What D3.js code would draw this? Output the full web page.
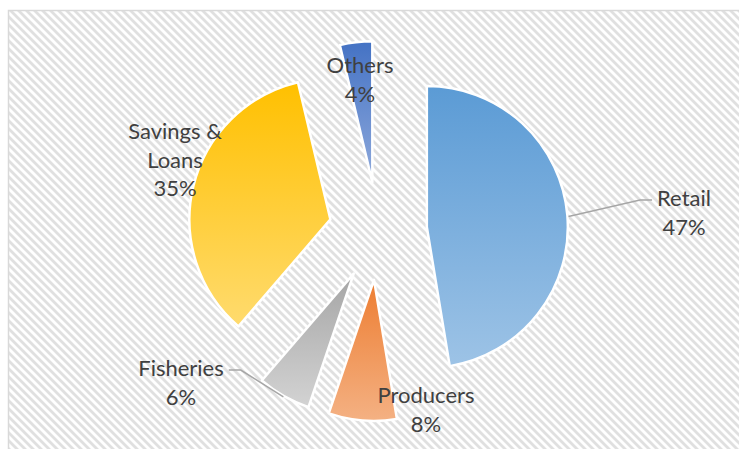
<!DOCTYPE html>
<html><head><meta charset="utf-8">
<script src="https://cdn.jsdelivr.net/npm/d3@7"></script>
<style>html,body{margin:0;padding:0;background:#fff;}svg{display:block;}</style>
</head><body>
<svg id="chart" width="739" height="449"></svg>
<script>
// ---- data ----
const categories = ["Retail", "Producers", "Fisheries", "Savings & Loans", "Others"];
const shares = [47.4, 7.8, 6.1, 35.0, 3.7];
const labelLines = [["Retail"], ["Producers"], ["Fisheries"], ["Savings &", "Loans"], ["Others"]];

// ---- styles / layout ----
const gradStops = [
  ["#5B9BD5", "#9DC3E6"],
  ["#ED7D31", "#F4B183"],
  ["#A5A5A5", "#D3D3D3"],
  ["#FFC000", "#FFDB6E"],
  ["#4472C4", "#8FAADC"]
];
const W = 739, H = 449;
const cx = 378, cy = 231, R = 141, explode = 49;
// label anchor offsets (relative to pie centre) of the first text baseline
const labelOffsets = [[306, -25], [48, 172], [-197, 145], [-203, -92], [-18, -158]];
const lineH = 28.5;
const leaderSlices = { 0: 85.8, 2: null }; // retail at given angle, fisheries at mid angle

const svg = d3.select("#chart");
const defs = svg.append("defs");
const pat = defs.append("pattern").attr("id", "hatch").attr("patternUnits", "userSpaceOnUse")
  .attr("width", 8).attr("height", 8);
pat.append("rect").attr("width", 8).attr("height", 8).attr("fill", "#fff");
pat.append("path").attr("d", "M-1,-1L9,9M-1,7L1,9M7,-1L9,1")
  .attr("stroke", "#e0e0e0").attr("stroke-width", 2.8);

gradStops.forEach((g, i) => {
  const lg = defs.append("linearGradient").attr("id", "g" + i)
    .attr("x1", 0).attr("y1", 0).attr("x2", 0).attr("y2", 1);
  lg.append("stop").attr("offset", "0%").attr("stop-color", g[0]);
  lg.append("stop").attr("offset", "100%").attr("stop-color", g[1]);
});

svg.append("rect").attr("x", 8.5).attr("y", 10.5).attr("width", W + 10).attr("height", H + 10)
  .attr("fill", "url(#hatch)").attr("stroke", "#d9d9d9").attr("stroke-width", 1.5);

const data = categories.map((c, i) => ({ cat: c, v: shares[i], i }));
const pie = d3.pie().sort(null).value(d => d.v).startAngle(0).endAngle(2 * Math.PI);
const arcs = pie(data);
const arc = d3.arc().innerRadius(0).outerRadius(R);
const dir = a => [Math.sin(a), -Math.cos(a)];

const g = svg.append("g").attr("transform", `translate(${cx},${cy})`);
arcs.forEach(a => {
  const mid = (a.startAngle + a.endAngle) / 2;
  const [dx, dy] = dir(mid);
  a.ox = dx * explode; a.oy = dy * explode; a.mid = mid;
  g.append("path").attr("d", arc(a))
    .attr("transform", `translate(${a.ox},${a.oy})`)
    .attr("fill", `url(#g${a.index})`)
    .attr("stroke", "#fff").attr("stroke-width", 2.5).attr("stroke-linejoin", "round");
});

// labels
const font = "Lato, 'Open Sans', sans-serif";
const labelBoxes = [];
arcs.forEach((a, k) => {
  const [lx, ly] = labelOffsets[k];
  const lines = labelLines[k].concat([Math.round(a.data.v) + "%"]);
  const t = g.append("text").attr("text-anchor", "middle")
    .attr("font-family", font).attr("font-size", 22).attr("fill", "#404040");
  lines.forEach((s, j) => {
    t.append("tspan").attr("x", lx).attr("y", ly + j * lineH).text(s);
  });
  labelBoxes[k] = t.node().getBBox();
});

// leader lines
Object.keys(leaderSlices).forEach(key => {
  const k = +key;
  const a = arcs[k];
  const ang = leaderSlices[k] == null ? a.mid : leaderSlices[k] * Math.PI / 180;
  const [ux, uy] = dir(ang);
  const sx = a.ox + ux * (R + 1), sy = a.oy + uy * (R + 1);
  const bb = labelBoxes[k];
  const right = sx < bb.x;
  const ex = right ? bb.x - 5 : bb.x + bb.width + 5;
  const ey = bb.y + 16;
  const elx = right ? ex - 12 : ex + 12;
  g.append("path").attr("d", `M${sx},${sy}L${elx},${ey}L${ex},${ey}`)
    .attr("fill", "none").attr("stroke", "#a6a6a6").attr("stroke-width", 1.5);
});
</script>
</body></html>
